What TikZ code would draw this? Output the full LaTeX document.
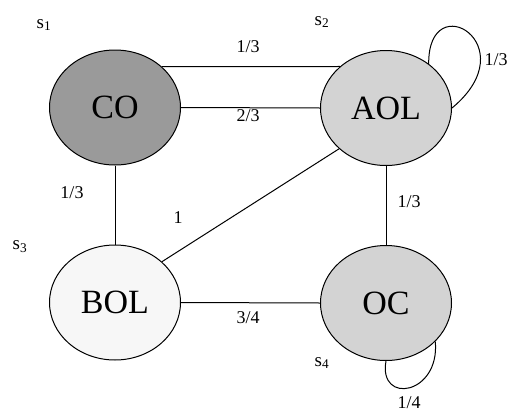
\documentclass[tikz,border=0pt]{standalone}
\usepackage{fontspec}
\setmainfont{Liberation Serif}
\usetikzlibrary{shapes.geometric}
\definecolor{codark}{HTML}{9A9A9A}
\definecolor{midgray}{HTML}{D3D3D3}
\definecolor{palegray}{HTML}{F7F7F7}
\tikzset{
  state/.style={ellipse, draw=black, line width=1pt, minimum width=131pt,
    minimum height=115pt, inner sep=0pt, font=\fontsize{34}{34}\selectfont},
  link/.style={draw=black, line width=1pt},
  prob/.style={font=\fontsize{18}{18}\selectfont, inner sep=0pt},
  slabel/.style={font=\fontsize{19}{19}\selectfont, inner sep=0pt}
}
\begin{document}
\begin{tikzpicture}[x=1pt,y=-1pt]
\useasboundingbox (0,0) rectangle (515,413);
% states
\node[state, fill=codark]   (CO)  at (115,107.5) {CO};
\node[state, fill=midgray]  (AOL) at (386,108)   {AOL};
\node[state, fill=palegray] (BOL) at (115,302.5) {BOL};
\node[state, fill=midgray]  (OC)  at (386,303)   {OC};
% transitions
\draw[link] (CO.41.5) -- (AOL.138.5);
\draw[link] (CO.east) -- (AOL.west);
\draw[link] (CO.south) -- (BOL.north);
\draw[link] (BOL.41) -- (AOL.221);
\draw[link] (AOL.south) -- (OC.north);
\draw[link] (BOL.east) -- (OC.west);
% self loops
\draw[link] (AOL.46) .. controls (428,-15) and (528,45) .. (AOL.east);
\draw[link] (OC.270) .. controls (378,405) and (440,395) .. (OC.-38);
% transition probabilities
\node[prob] (p1) at (248,47)  {1/3};
\node[prob] (p2) at (248,116) {2/3};
\node[prob] (p3) at (72,193)  {1/3};
\node[prob] (p4) at (178,218) {1};
\node[prob] (p5) at (409,202) {1/3};
\node[prob] (p6) at (248,318) {3/4};
\node[prob] (p7) at (496,60)  {1/3};
\node[prob] (p8) at (409,403) {1/4};
% state names
\node[slabel] (s1) at (44,25)  {s\textsubscript{1}};
\node[slabel] (s2) at (322,22) {s\textsubscript{2}};
\node[slabel] (s3) at (20,247) {s\textsubscript{3}};
\node[slabel] (s4) at (322,363) {s\textsubscript{4}};
\end{tikzpicture}
\end{document}
